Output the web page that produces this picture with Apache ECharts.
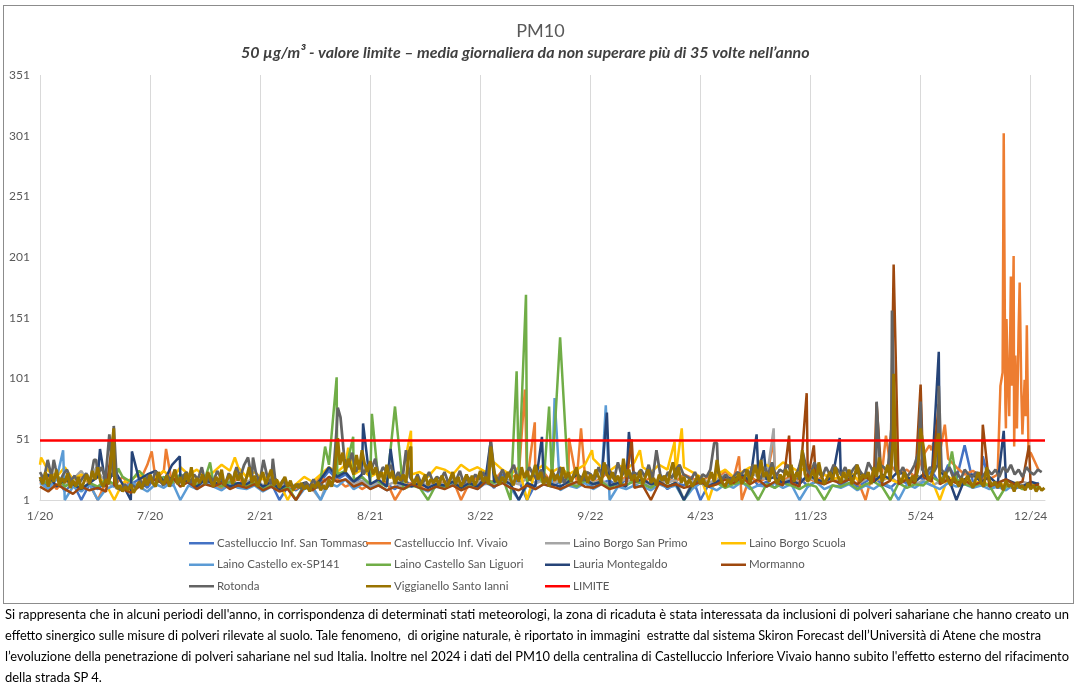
<!DOCTYPE html>
<html><head><meta charset="utf-8">
<script src="https://cdn.jsdelivr.net/npm/echarts/dist/echarts.min.js"></script>
<style>
html,body{margin:0;padding:0;background:#fff;}
body{width:1081px;height:684px;overflow:hidden;position:relative;font-family:Lato,"Open Sans",sans-serif;}
#chart{position:absolute;left:0;top:0;width:1081px;height:604px;}
#box{position:absolute;left:3px;top:5px;width:1069px;height:597px;border:1px solid #8c8c8c;pointer-events:none;}
#note{position:absolute;left:5px;top:604px;font-size:13.5px;line-height:21px;color:#000;white-space:nowrap;}
#note span{display:block;transform-origin:0 50%;width:max-content;}
</style></head>
<body>
<div id="chart"></div>
<div id="box"></div>
<div id="note"><span>Si rappresenta che in alcuni periodi dell'anno, in corrispondenza di determinati stati meteorologi, la zona di ricaduta è stata interessata da inclusioni di polveri sahariane che hanno creato un</span><span>effetto sinergico sulle misure di polveri rilevate al suolo. Tale fenomeno,&nbsp; di origine naturale, è riportato in immagini&nbsp; estratte dal sistema Skiron Forecast dell’Università di Atene che mostra</span><span>l’evoluzione della penetrazione di polveri sahariane nel sud Italia. Inoltre nel 2024 i dati del PM10 della centralina di Castelluccio Inferiore Vivaio hanno subito l'effetto esterno del rifacimento</span><span>della strada SP 4.</span></div>
<script>
// ---- categories: daily dates 2020-01-01 .. 2024-12-31 ----
const startDate = Date.UTC(2020, 0, 1);
const dayCount = 1827;
const categories = [];
for (let i = 0; i < dayCount; i++) {
  categories.push(new Date(startDate + i * 86400000).toISOString().slice(0, 10));
}
const yTicks = [1, 51, 101, 151, 201, 251, 301, 351];
const limitValue = 50;

const names = ["Castelluccio Inf. San Tommaso","Castelluccio Inf. Vivaio","Laino Borgo San Primo","Laino Borgo Scuola","Laino Castello ex-SP141","Laino Castello San Liguori","Lauria Montegaldo","Mormanno","Rotonda","Viggianello Santo Ianni","LIMITE"];
const colors = ["#4472C4","#ED7D31","#A5A5A5","#FFC000","#5B9BD5","#70AD47","#264478","#9E480E","#636363","#997300","#FF0000"];

// ---- readings every 15 days + peaks [day, value] ----
const sanTommaso = [18,12,20,8,15,1,14,10,16,12,9,14,18,11,20,15,13,22,17,12,19,14,16,11,20,
13,17,10,15,1,12,9,14,11,16,25,18,22,15,20,12,16,14,10,18,13,15,11,17,
14,19,12,16,13,18,11,22,15,17,1,14,20,12,16,18,13,19,11,15,17,12,18,14,
16,12,18,10,15,13,20,1,14,17,12,19,15,22,13,16,11,18,14,20,12,17,15,19,
13,18,12,16,20,14,11,17,15,22,18,25,14,30,18,12,16,13,15,11,14,10,13,12,15];
const sanTommasoPeaks = [[1680,46],[1713,37]];

const vivaio = [15,20,10,18,12,22,14,1,16,13,20,12,15,30,18,25,14,20,16,12,18,15,10,14,19,
12,16,9,14,11,13,10,15,12,20,14,18,12,15,10,14,13,16,1,12,15,11,14,13,
16,18,1,15,20,14,17,25,20,22,16,18,24,15,20,13,17,22,15,19,25,16,20,18,
15,20,14,18,16,22,19,15,21,17,25,18,1,20,16,19,24,17,21,15,19,16,22,18,
20,25,18,1,28,24,30,22,26,20,38,42,40,35,28,22,25,20,18,22,60,45,55,40,25];
const vivaioPeaks = [[203,41],[229,43],[881,92],[899,65],[961,52],[983,60],[1270,37],[1333,50],[1537,54],[1616,46],[1623,48],[1644,63],[1745,95],[1749,106],[1751,303],[1754,80],[1756,150],[1758,112],[1761,70],[1764,185],[1766,95],[1769,202],[1772,120],[1775,60],[1778,140],[1780,180],[1783,90],[1786,55],[1789,100],[1791,70],[1793,145],[1796,40]];

const sanPrimo = [20,15,22,12,18,25,14,24,16,12,10,15,13,18,16,20,14,22,18,15,20,16,13,18,22,
16,19,13,17,12,15,11,14,10,1,20,16,18,14,17,12,15,13,16,11,14,17,12,15,
14,18,12,16,15,20,13,18,16,14,19,15,17,13,18,16,14,19,15,17,13,16,18,14,
17,13,19,15,18,1,16,20,15,18,22,17,19,24,20,18,22,16,19,15,20,17,14,18,
16,19,14,18,22,17,20,15,18,14,17,13,16,19,15,18,14,16,12,15,18,13,16,14,12];
const sanPrimoPeaks = [[102,28],[1333,60]];

const borgoScuola = [30,25,20,28,18,22,16,20,14,1,15,18,22,16,20,25,18,28,22,26,20,24,30,25,28,
20,24,18,22,15,1,14,20,16,22,28,24,30,22,26,20,24,22,18,26,22,24,20,28,
26,22,30,25,28,24,32,26,22,28,1,25,30,24,28,22,26,30,35,28,25,30,26,32,
28,24,30,26,22,28,24,20,1,22,26,20,24,28,22,30,26,32,28,24,30,26,22,18,
20,25,18,22,16,20,18,15,20,17,22,18,1,20,16,18,14,17,13,16,12,15,11,14,12];
const borgoScuolaPeaks = [[2,36],[354,36],[560,44],[674,58],[1003,42],[1090,42],[1153,49],[1166,60]];

const exSP141 = [15,10,18,1,12,8,14,1,10,13,9,15,12,8,14,11,16,1,13,10,15,12,9,14,11,
10,13,8,12,9,11,1,10,12,1,15,12,18,10,14,11,13,9,12,10,14,11,8,12,
11,14,9,13,10,15,12,16,11,1,13,10,14,12,9,13,11,15,10,14,1,12,10,13,
12,9,14,11,13,1,10,15,12,9,14,11,16,10,13,12,15,11,14,1,12,16,10,13,
11,14,9,13,10,15,12,1,14,11,16,13,10,15,12,14,11,13,10,12,9,14,11,13,10];
const exSP141Peaks = [[42,42],[935,85],[1028,79]];

const sanLiguori = [18,14,22,12,16,10,15,12,18,14,20,16,25,18,14,20,15,22,17,13,19,15,12,16,14,
12,15,10,13,9,12,1,14,12,18,30,22,25,18,20,14,16,12,15,10,13,11,1,14,
12,16,10,14,12,18,15,20,1,22,16,25,14,18,20,15,12,17,14,16,11,15,13,17,
14,11,16,12,15,1,13,17,12,15,11,14,16,12,1,14,11,15,13,10,14,12,1,13,
12,15,10,14,16,12,1,15,11,14,13,20,16,25,18,14,12,15,13,1,12,14,10,13,11];
const sanLiguoriPeaks = [[142,27],[309,32],[518,45],[539,102],[569,53],[603,72],[645,78],[866,107],[883,170],[925,78],[945,135],[1657,41]];

const lauria = [16,22,12,18,14,10,15,20,12,26,14,1,18,22,25,16,30,20,15,12,18,14,16,12,15,
14,18,12,16,10,14,12,15,10,18,28,20,24,16,22,14,18,12,16,14,12,15,11,14,
13,16,11,15,12,20,16,18,14,1,15,12,18,14,12,16,22,18,14,16,13,15,12,16,
18,14,16,12,15,1,14,18,12,16,20,18,22,16,24,18,20,15,17,14,22,18,16,20,
22,18,24,20,16,22,18,25,20,16,22,18,24,20,1,18,22,16,20,14,18,15,12,16,14];
const lauriaPeaks = [[109,43],[167,41],[254,37],[587,64],[637,43],[819,50],[912,53],[1030,73],[1070,57],[1302,55],[1315,42],[1453,52],[1633,123],[1751,58]];

const mormanno = [12,8,14,10,6,12,9,11,8,13,10,7,12,15,18,14,20,12,16,10,14,12,15,10,13,
11,14,9,12,8,10,1,12,9,14,20,16,18,12,15,10,13,9,12,10,14,11,9,12,
10,13,9,12,10,16,12,15,11,9,13,10,14,12,10,13,16,12,11,14,10,12,14,11,
13,1,15,12,14,11,13,16,12,14,18,15,20,14,18,12,16,13,15,12,18,16,14,17,
15,18,14,20,16,13,17,14,18,15,20,16,14,18,15,17,13,16,12,15,18,14,16,12,14];
const mormannoPeaks = [[134,58],[1075,51],[1361,54],[1393,89],[1406,46],[1520,81],[1551,195],[1600,96],[1633,80],[1713,63],[1797,46]];

// ---- readings every 7 days ----
const rotonda = [24,18,34,20,28,15,22,26,17,21,14,19,23,
16,34,22,28,18,55,20,12,9,14,10,13,11,
17,12,21,15,25,18,13,22,16,26,14,20,24,
15,22,18,28,14,21,16,25,19,13,23,17,28,
20,30,36,18,24,15,34,20,14,19,12,17,13,
15,11,14,10,16,12,18,11,14,10,13,16,60,
69,35,28,40,24,32,22,30,26,35,20,28,24,
30,18,24,16,42,20,15,22,14,18,24,16,20,
18,24,15,21,17,25,14,20,16,22,18,24,16,
50,22,17,26,19,24,30,18,25,20,28,22,18,
26,20,16,24,19,28,15,22,18,26,20,17,24,
22,18,28,20,30,24,18,32,21,26,19,24,22,
26,20,30,18,42,22,17,24,19,26,30,22,20,
18,24,16,22,20,26,48,24,18,22,17,20,24,
22,26,20,30,24,18,28,22,32,20,26,24,30,
24,20,28,40,26,22,32,24,20,28,22,30,26,
22,28,20,26,30,24,20,32,26,22,30,28,24,
60,26,22,28,20,24,30,40,26,22,28,24,30,
26,22,28,20,24,18,26,22,20,24,18,22,26,
22,26,20,28,24,30,22,26,20,28,24,22,26,
24];
const rotondaPeaks = [[25,34],[102,34],[134,62],[387,36],[423,35],[541,77],[547,69],[819,50],[1230,48],[1520,82],[1548,157],[1600,82],[1633,95]];

// ---- readings every 5 days ----
const viggianello = [20,14,24,12,22,16,26,13,19,15,23,11,
17,12,20,10,16,22,14,25,18,28,16,12,
18,14,40,22,10,13,8,12,9,14,7,11,
16,10,19,13,22,15,12,24,17,14,21,12,
18,26,14,20,12,23,16,28,13,19,15,22,
14,24,17,12,20,15,26,13,18,22,14,25,
17,23,13,19,28,15,21,12,18,24,14,20,
26,13,18,11,16,20,12,17,9,14,11,15,
10,13,8,14,11,16,9,13,10,18,12,22,
48,30,40,24,35,28,22,38,26,42,30,24,
33,22,28,18,24,16,30,19,25,14,20,17,
22,15,40,19,14,20,12,17,22,13,18,15,
19,13,21,16,12,18,24,14,20,12,17,22,
15,21,13,18,25,16,20,14,42,24,17,14,
20,15,24,18,13,22,16,28,19,25,17,22,
30,18,24,14,20,12,26,17,22,15,28,19,
24,16,21,28,14,19,25,15,22,17,26,20,
15,32,22,18,24,16,21,14,35,20,26,17,
22,16,25,14,20,26,15,19,13,22,17,21,
14,24,32,18,28,15,20,13,18,12,16,21,
14,19,12,17,24,16,34,20,15,12,18,14,
20,16,23,14,19,26,15,22,30,18,34,20,
24,16,28,19,14,22,17,26,20,30,16,24,
18,42,22,16,20,26,15,32,21,14,19,24,
17,28,20,15,24,18,26,14,21,30,16,22,
19,24,14,28,20,36,16,22,30,18,48,30,
20,15,24,18,13,21,16,26,19,45,24,17,
22,28,50,20,15,24,17,13,20,16,12,19,
14,21,16,11,18,24,15,12,28,17,13,16,
11,15,9,17,12,14,8,16,11,13,9,15,
10,13,8,12,9,11];
const viggianelloPeaks = [[134,60],[541,52],[674,45],[819,45],[1551,105],[1600,60],[1633,56]];

function build(vals, step, peaks) {
  const m = new Map();
  vals.forEach((v, i) => { if (i * step < dayCount) m.set(i * step, v); });
  peaks.forEach(p => m.set(p[0], p[1]));
  return Array.from(m.entries()).sort((a, b) => a[0] - b[0]);
}

const seriesData = [
  build(sanTommaso, 15, sanTommasoPeaks),
  build(vivaio, 15, vivaioPeaks),
  build(sanPrimo, 15, sanPrimoPeaks),
  build(borgoScuola, 15, borgoScuolaPeaks),
  build(exSP141, 15, exSP141Peaks),
  build(sanLiguori, 15, sanLiguoriPeaks),
  build(lauria, 15, lauriaPeaks),
  build(mormanno, 15, mormannoPeaks),
  build(rotonda, 7, rotondaPeaks),
  build(viggianello, 5, viggianelloPeaks),
  [[0, limitValue], [dayCount - 1, limitValue]]
];

const FONT = 'Lato,"Open Sans",sans-serif';
const legendCols = [[0, 4, 8], [1, 5, 9], [2, 6, 10], [3, 7]];
const legendLeft = [189, 366, 545, 721];
const widths = [2.5, 2.5, 2.5, 2.5, 2.5, 2.5, 2.5, 2.5, 2.75, 3, 2.5];

const chart = echarts.init(document.getElementById('chart'), null, {renderer: 'canvas'});
chart.setOption({
  animation: false,
  backgroundColor: '#fff',
  textStyle: {fontFamily: FONT},
  title: [
    {text: 'PM10', left: 'center', top: 17, textStyle: {fontSize: 18, fontWeight: 'normal', color: '#595959', fontFamily: FONT}},
    {text: '{b|50 µg/m³}{i| - valore limite – media giornaliera da non superare più di }{b|35 volte}{i| nell’anno}',
     left: 236, top: 40,
     textStyle: {fontSize: 16, color: '#404040', fontFamily: FONT,
       rich: {b: {fontWeight: 'bold', fontStyle: 'italic', fontSize: 16, color: '#404040', fontFamily: FONT},
              i: {fontStyle: 'italic', fontSize: 16, color: '#404040', fontFamily: FONT}}}}
  ],
  legend: legendCols.map((col, k) => ({
    data: col.map(i => names[i]), orient: 'vertical', left: legendLeft[k], top: 535,
    icon: 'rect', itemWidth: 25, itemHeight: 2.5, itemGap: 5, padding: 0, selectedMode: false,
    textStyle: {color: '#595959', fontSize: 11.5, lineHeight: 16.5, fontFamily: FONT, padding: [0, 0, 0, -2]}
  })),
  grid: {left: 40, right: 36, top: 75, bottom: 104, containLabel: false},
  xAxis: {
    type: 'category', data: categories, boundaryGap: false,
    axisLine: {lineStyle: {color: '#d9d9d9', width: 1}},
    axisTick: {show: false},
    axisLabel: {interval: 199, color: '#595959', fontSize: 12, margin: 10, fontFamily: FONT,
      formatter: v => { const p = v.split('-'); return (+p[1]) + '/' + p[0].slice(2); }},
    splitLine: {show: true, interval: 199, lineStyle: {color: '#d9d9d9', width: 1}}
  },
  yAxis: {
    type: 'value', min: yTicks[0], max: yTicks[yTicks.length - 1], interval: yTicks[1] - yTicks[0],
    axisLine: {show: false}, axisTick: {show: false}, splitLine: {show: false},
    axisLabel: {color: '#595959', fontSize: 12, margin: 10, fontFamily: FONT}
  },
  series: names.map((n, i) => ({
    name: n, type: 'line', data: seriesData[i], showSymbol: false, symbol: 'none',
    color: colors[i], clip: true,
    lineStyle: {width: widths[i], color: colors[i]},
    emphasis: {disabled: true}
  }))
});

// fit each note line to its width in the reference
const targets = [1064, 1036, 1064, null];
const spans = document.querySelectorAll('#note span');
const s0 = targets[0] / spans[0].getBoundingClientRect().width;
spans.forEach((s, k) => {
  const w = s.getBoundingClientRect().width;
  const sx = targets[k] ? targets[k] / w : s0;
  s.style.transform = 'scaleX(' + sx + ')';
});
</script>
</body></html>
